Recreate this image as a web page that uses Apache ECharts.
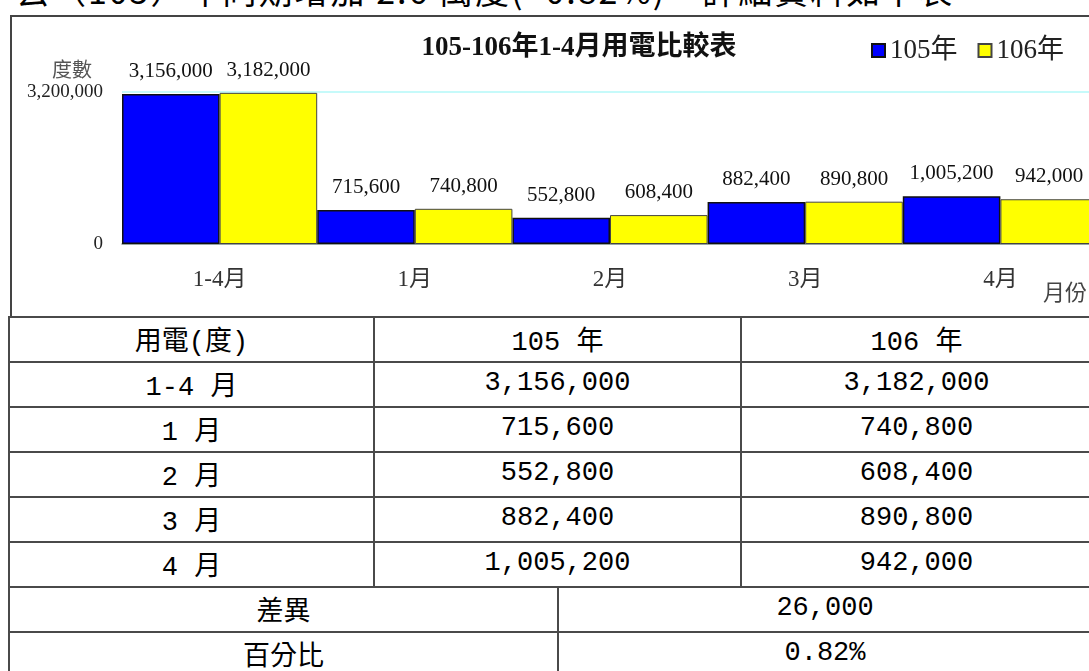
<!DOCTYPE html>
<html>
<head>
<meta charset="utf-8">
<title>105-106年1-4月用電比較表</title>
<script src="https://cdn.jsdelivr.net/npm/echarts@6/dist/echarts.min.js"></script>
<style>
	html, body { margin: 0; padding: 0; background: #fff; overflow: hidden; width: 1089px; height: 671px; position: relative; }
	#topLine { position: absolute; left: 16px; top: -35px; font-size: 34px; font-family: "Noto Sans CJK TC", sans-serif; white-space: nowrap; letter-spacing: 2px; color: #000; }
	#frame { position: absolute; left: 10px; top: 15px; width: 1100px; height: 301px; border-left: 2px solid #444; border-top: 2px solid #444; }
	#report { position: absolute; left: 0; top: 0; width: 1110px; height: 316px; }
	#dataTable { position: absolute; left: 8px; top: 316px; width: 1083px; border-collapse: collapse; table-layout: fixed; }
	#dataTable tr { height: 45px; }
	#dataTable td { border: 2px solid #4a4a4a; padding: 0 0 3px 0; text-align: center; font-size: 27px; font-family: "Liberation Mono", "Noto Sans CJK TC", monospace; color: #000; }
</style>
</head>
<body>
<div id="topLine">去（105）年同期增加 2.6 萬度(+0.82%)，詳細資料如下表</div>
<div id="frame"></div>
<div id="report"></div>
<table id="dataTable">
	<colgroup><col style="width:365px"><col style="width:184px"><col style="width:183px"><col style="width:351px"></colgroup>
	<tbody id="tableBody"></tbody>
</table>
<script>
// 圖表資料
var categories = ['1-4月', '1月', '2月', '3月', '4月'];
var rowLabels = ['1-4 月', '1 月', '2 月', '3 月', '4 月'];
var seriesNames = ['105年', '106年'];
var headerLabels = ['用電(度)', '105 年', '106 年'];
var kwh105 = [3156000, 715600, 552800, 882400, 1005200];
var kwh106 = [3182000, 740800, 608400, 890800, 942000];
var yTicks = [0, 3200000];
var diffLabel = '差異';
var diffValue = 26000;
var pctLabel = '百分比';
var pctValue = '0.82%';

var serifFont = '"Liberation Serif", "Noto Sans CJK TC", serif';

function fmt(v) {
	return String(v).replace(/\B(?=(\d{3})+(?!\d))/g, ',');
}

function buildTable() {
	var html = '';
	html += '<tr><td>' + headerLabels[0] + '</td><td colspan="2">' + headerLabels[1] + '</td><td>' + headerLabels[2] + '</td></tr>';
	for (var i = 0; i < rowLabels.length; i++) {
		html += '<tr><td>' + rowLabels[i] + '</td><td colspan="2">' + fmt(kwh105[i]) + '</td><td>' + fmt(kwh106[i]) + '</td></tr>';
	}
	html += '<tr><td colspan="2">' + diffLabel + '</td><td colspan="2">' + fmt(diffValue) + '</td></tr>';
	html += '<tr><td colspan="2">' + pctLabel + '</td><td colspan="2">' + pctValue + '</td></tr>';
	document.getElementById('tableBody').innerHTML = html;
}

function barSeries(name, data, color, border, borderWidth) {
	return {
		name: name,
		type: 'bar',
		data: data,
		barGap: '0%',
		barCategoryGap: '0%',
		itemStyle: { color: color, borderColor: border, borderWidth: borderWidth },
		label: {
			show: true,
			position: 'top',
			distance: 12,
			fontFamily: serifFont,
			fontSize: 21,
			color: '#111',
			formatter: function (p) { return fmt(p.value); }
		}
	};
}

function drawChart() {
	var myChart = echarts.init(document.getElementById('report'));
	var option = {
		animation: false,
		title: {
			text: '105-106年1-4月用電比較表',
			left: 574,
			top: 30,
			textAlign: 'center',
			textStyle: { fontFamily: serifFont, fontSize: 27, fontWeight: 'bold', color: '#111' }
		},
		legend: {
			data: seriesNames,
			left: 866,
			top: 32,
			icon: 'rect',
			itemWidth: 13,
			itemHeight: 13,
			itemGap: 20,
			textStyle: { fontFamily: serifFont, fontSize: 27, color: '#222' }
		},
		grid: { left: 122, top: 92, width: 976, height: 152 },
		xAxis: {
			type: 'category',
			data: categories,
			name: '月份',
			nameLocation: 'end',
			nameGap: -55,
			nameTextStyle: { fontFamily: serifFont, fontSize: 22, color: '#444', verticalAlign: 'top', padding: [39, 0, 0, 0] },
			axisLine: { lineStyle: { color: '#888', width: 1.5 } },
			axisTick: { show: false },
			axisLabel: { fontFamily: serifFont, fontSize: 23, color: '#333', margin: 24 }
		},
		yAxis: {
			type: 'value',
			min: yTicks[0],
			max: yTicks[1],
			interval: yTicks[1] - yTicks[0],
			name: '度數',
			nameLocation: 'end',
			nameGap: 10,
			nameTextStyle: { fontFamily: serifFont, fontSize: 20, color: '#555', align: 'right', padding: [0, 30, 0, 0] },
			axisLine: { show: false },
			axisTick: { show: false },
			splitLine: { lineStyle: { color: '#c6fafa', width: 2 } },
			axisLabel: { fontFamily: serifFont, fontSize: 19, color: '#222', margin: 19, padding: [4, 0, 0, 0], formatter: fmt }
		},
		series: [
			barSeries(seriesNames[0], kwh105, '#0000ff', '#111', 1.5),
			barSeries(seriesNames[1], kwh106, '#ffff00', '#444', 1)
		]
	};
	myChart.setOption(option);
}

buildTable();
drawChart();
</script>
</body>
</html>
